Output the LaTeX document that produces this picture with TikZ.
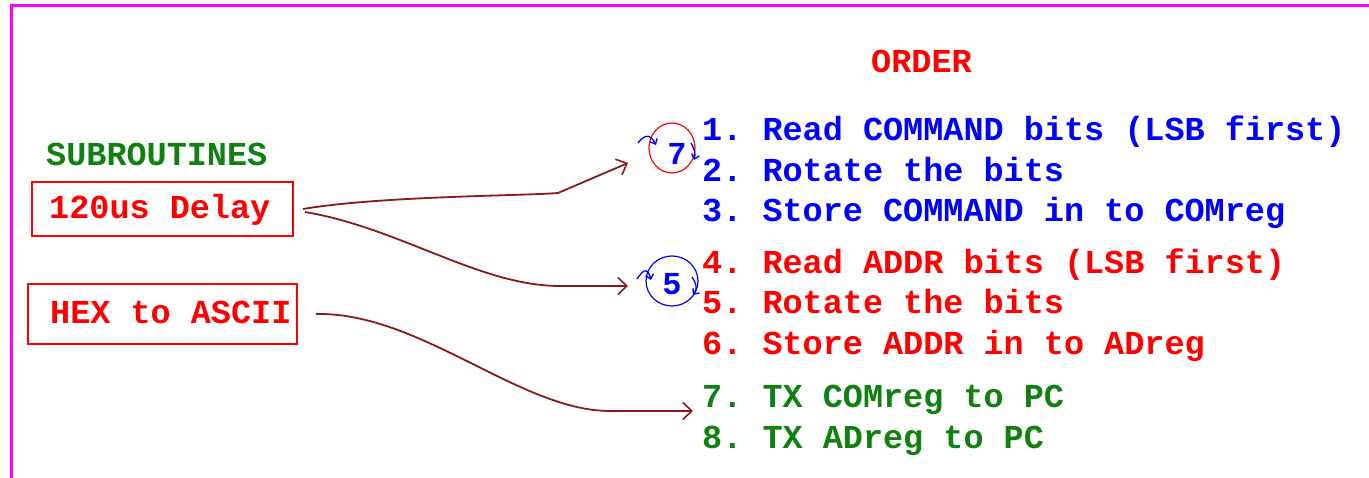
\documentclass[tikz,border=0pt]{standalone}
\usepackage{fontspec}
\setmonofont{Liberation Mono}
\usetikzlibrary{arrows.meta}
\definecolor{cblue}{RGB}{0,0,255}
\definecolor{cred}{RGB}{255,0,0}
\definecolor{cgreen}{RGB}{16,128,16}
\definecolor{cbrown}{RGB}{140,25,25}
\definecolor{cmag}{RGB}{255,0,255}
\frenchspacing
\tikzset{
  txt/.style={anchor=base west, inner sep=0pt, font=\fontsize{33.5}{36}\selectfont\ttfamily\bfseries},
  subbox/.style={draw=cred, line width=1.6pt},
  conn/.style={draw=cbrown, line width=1.8pt, -{Straight Barb[length=9pt,width=17pt,line width=1.6pt]}},
  rot/.style={draw=cblue, line width=1.3pt, -{Straight Barb[length=4.5pt,width=8pt]}}
}
\begin{document}
\begin{tikzpicture}[x=1pt,y=-1pt]
\useasboundingbox (0,0) rectangle (1369,478);
\draw[cmag, line width=3pt] (11,478) -- (11,6) -- (1369,6);
% titles
\node[txt, text=cred] (order) at (871,73) {ORDER};
\node[txt, text=cgreen] (subr) at (46,166) {SUBROUTINES};
% boxes
\draw[subbox] (32,182) rectangle (293,236);
\node[txt, text=cred] (delay) at (49,219) {120us Delay};
\draw[subbox] (28,284) rectangle (297,344);
\node[txt, text=cred] (hex) at (50,324) {HEX to ASCII};
\coordinate (dly) at (303,209);
\coordinate (dly2) at (305,212);
\coordinate (hx) at (316,314);
% order list
\node[txt, text=cblue] (l1) at (702,141) {1. Read COMMAND bits (LSB first)};
\node[txt, text=cblue] (l2) at (702,182) {2. Rotate the bits};
\node[txt, text=cblue] (l3) at (702,222) {3. Store COMMAND in to COMreg};
\node[txt, text=cred] (l4) at (702,274) {4. Read ADDR bits (LSB first)};
\node[txt, text=cred] (l5) at (702,314) {5. Rotate the bits};
\node[txt, text=cred] (l6) at (702,355) {6. Store ADDR in to ADreg};
\node[txt, text=cgreen] (l7) at (702,408) {7. TX COMreg to PC};
\node[txt, text=cgreen] (l8) at (702,448) {8. TX ADreg to PC};
% loop marks
\draw[cred, line width=1.2pt] (672,148) ellipse [x radius=23, y radius=25];
\node[txt, text=cblue, anchor=center, font=\fontsize{32}{34}\selectfont\ttfamily\bfseries] (seven) at (677,154) {7};
\draw[rot] (638,143) .. controls (644,135) and (650,133) .. (656,145);
\draw[rot] (691,143) .. controls (694,149) and (696,153) .. (694,160);
\draw[cblue, line width=1.2pt] (672,281) ellipse [x radius=26, y radius=25];
\node[txt, text=cblue, anchor=center, font=\fontsize{32}{34}\selectfont\ttfamily\bfseries] (five) at (672,284) {5};
\draw[rot] (637,279) .. controls (642,272) and (647,265) .. (651,280);
\draw[rot] (692,277) .. controls (696,283) and (698,288) .. (693,295);
\coordinate (t7) at (628,163);
\coordinate (t5) at (628,286);
\coordinate (t8) at (693,411);
% connectors
\draw[conn] (dly) .. controls (380,196) and (520,196) .. (558,193) -- (t7);
\draw[conn] (dly2) .. controls (400,228) and (480,286) .. (560,286) -- (t5);
\draw[conn] (hx) .. controls (420,312) and (520,411) .. (610,411) -- (t8);
\end{tikzpicture}
\end{document}
